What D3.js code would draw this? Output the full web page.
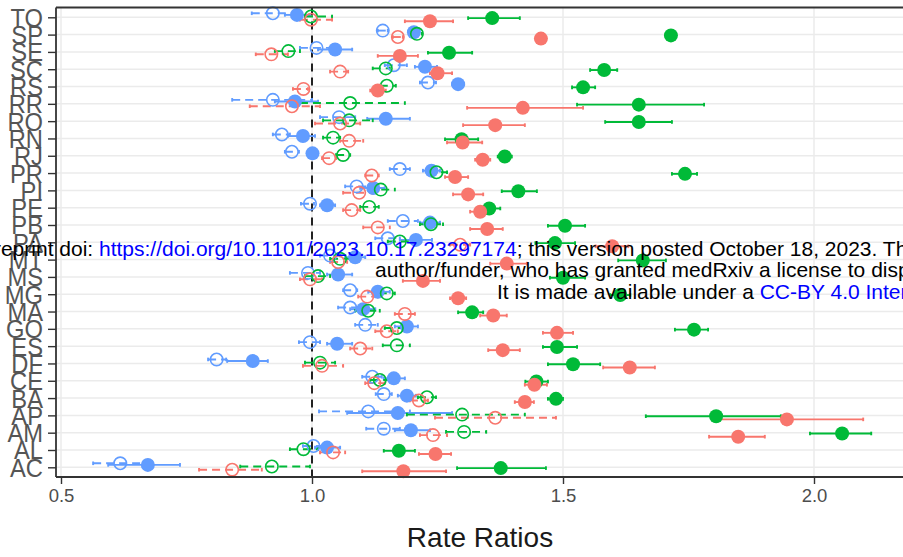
<!DOCTYPE html>
<html><head><meta charset="utf-8">
<script src="https://cdn.jsdelivr.net/npm/d3@7"></script>
<style>body{margin:0;background:#fff;overflow:hidden} svg{display:block;font-family:"Liberation Sans",Arial,sans-serif}</style>
</head><body><svg id="c" width="903" height="557"></svg>
<script>
// ---------------- DATA ----------------
const states = ["AC","AL","AM","AP","BA","CE","DF","ES","GO","MA","MG","MS","MT","PA","PB","PE","PI","PR","RJ","RN","RO","RR","RS","SC","SE","SP","TO"];
const xTicks = [0.5, 1.0, 1.5, 2.0];
const xTitle = "Rate Ratios";
// [estimate, lower, upper] per state, in the order of `states`
const filledRed = [[1.182,1.100,1.267],[1.246,1.213,1.277],[1.849,1.791,1.902],[1.946,1.809,2.098],[1.424,1.404,1.442],[1.443,1.424,1.468],[1.633,1.580,1.683],[1.380,1.351,1.414],[1.488,1.460,1.520],[1.361,1.335,1.388],[1.291,1.275,1.307],[1.221,1.181,1.255],[1.388,1.355,1.428],[1.598,1.565,1.630],[1.349,1.315,1.380],[1.335,1.315,1.355],[1.311,1.281,1.341],[1.285,1.265,1.311],[1.340,1.325,1.355],[1.300,1.269,1.339],[1.365,1.301,1.424],[1.420,1.309,1.540],[1.131,1.116,1.147],[1.250,1.235,1.279],[1.175,1.131,1.211],[1.456,1.449,1.463],[1.235,1.185,1.281]];
const filledGreen = [[1.376,1.289,1.466],[1.173,1.143,1.205],[2.056,1.992,2.114],[1.805,1.665,1.934],[1.486,1.470,1.500],[1.447,1.425,1.470],[1.520,1.470,1.574],[1.488,1.460,1.528],[1.761,1.723,1.789],[1.319,1.291,1.341],[1.614,1.594,1.634],[1.500,1.474,1.544],[1.659,1.610,1.705],[1.484,1.445,1.524],[1.504,1.470,1.544],[1.353,1.331,1.375],[1.411,1.378,1.448],[1.743,1.717,1.767],[1.384,1.370,1.398],[1.298,1.265,1.331],[1.651,1.584,1.717],[1.651,1.528,1.781],[1.540,1.518,1.564],[1.582,1.554,1.608],[1.273,1.231,1.319],[1.715,1.708,1.722],[1.359,1.311,1.414]];
const filledBlue = [[0.673,0.594,0.737],[1.030,1.006,1.056],[1.197,1.165,1.235],[1.171,1.070,1.279],[1.189,1.171,1.207],[1.163,1.143,1.185],[0.882,0.831,0.912],[1.050,1.030,1.080],[1.189,1.165,1.211],[1.102,1.076,1.126],[1.131,1.112,1.155],[1.052,1.030,1.080],[1.086,1.066,1.106],[1.207,1.175,1.239],[1.235,1.215,1.255],[1.030,1.016,1.046],[1.122,1.096,1.145],[1.238,1.221,1.255],[1.001,0.990,1.012],[0.982,0.952,1.006],[1.147,1.110,1.195],[0.966,0.926,1.012],[1.291,1.279,1.303],[1.225,1.205,1.249],[1.046,1.012,1.080],[1.203,1.197,1.209],[0.970,0.946,0.996]];
const hollowRed = [[0.841,0.775,0.900],[1.042,1.016,1.066],[1.241,1.215,1.269],[1.365,1.245,1.486],[1.213,1.195,1.231],[1.124,1.106,1.145],[1.020,0.982,1.062],[1.096,1.076,1.120],[1.149,1.126,1.171],[1.185,1.165,1.205],[1.110,1.092,1.131],[0.996,0.976,1.020],[1.052,1.036,1.070],[1.295,1.275,1.315],[1.131,1.102,1.155],[1.079,1.062,1.096],[1.094,1.062,1.120],[1.119,1.106,1.133],[1.034,1.020,1.048],[1.074,1.056,1.102],[1.056,1.006,1.096],[0.960,0.876,1.016],[0.983,0.962,0.992],[1.056,1.036,1.072],[0.919,0.888,0.952],[1.171,1.161,1.181],[0.998,0.976,1.040]];
const hollowGreen = [[0.920,0.857,0.996],[0.983,0.956,1.012],[1.303,1.267,1.347],[1.299,1.189,1.424],[1.229,1.211,1.247],[1.135,1.116,1.155],[1.016,0.986,1.046],[1.169,1.141,1.195],[1.169,1.145,1.193],[1.112,1.086,1.135],[1.149,1.133,1.165],[1.012,0.986,1.036],[1.056,1.036,1.076],[1.175,1.151,1.199],[1.237,1.215,1.261],[1.114,1.096,1.133],[1.137,1.112,1.165],[1.248,1.231,1.269],[1.062,1.048,1.076],[1.042,1.022,1.056],[1.074,1.022,1.121],[1.076,0.976,1.185],[1.149,1.135,1.167],[1.147,1.121,1.155],[0.953,0.926,0.976],[1.209,1.199,1.219],[0.998,0.986,1.040]];
const hollowBlue = [[0.618,0.564,0.677],[1.003,0.982,1.026],[1.143,1.108,1.175],[1.112,1.014,1.195],[1.143,1.127,1.159],[1.120,1.100,1.139],[0.810,0.793,0.829],[0.996,0.974,1.016],[1.106,1.086,1.131],[1.076,1.052,1.106],[1.076,1.062,1.090],[0.992,0.956,1.016],[1.036,1.016,1.056],[1.151,1.126,1.175],[1.181,1.151,1.211],[0.996,0.978,1.004],[1.089,1.066,1.112],[1.175,1.155,1.195],[0.960,0.946,0.974],[0.940,0.922,0.956],[1.054,1.016,1.086],[0.922,0.841,1.000],[1.231,1.215,1.247],[1.163,1.145,1.189],[1.009,0.976,1.036],[1.141,1.131,1.151],[0.922,0.880,0.972]];
const watermark = [
  ["medRxiv preprint doi: ", "https://doi.org/10.1101/2023.10.17.23297174", "; this version posted October 18, 2023. The copyright holder for this preprint (which was not certified by peer review) is the"],
  ["", "", "author/funder, who has granted medRxiv a license to display the preprint in perpetuity."],
  ["It is made available under a ", "CC-BY 4.0 International license", " ."]
];

// ---------------- CHART ----------------
const W = 903, H = 557;
const svg = d3.select("#c");
const P = {left: 56, top: 7.5, bottom: 477, right: 1000};
const x = d3.scaleLinear().domain([0.5, 2.0]).range([61, 814]);
const y = d3.scalePoint().domain(states).range([467.3, 17.3]);

const series = [
  {data: hollowBlue,  color: "#619CFF", filled: false, off: -4.0},
  {data: filledBlue,  color: "#619CFF", filled: true,  off: -2.4},
  {data: hollowGreen, color: "#00BA38", filled: false, off: -0.8},
  {data: filledGreen, color: "#00BA38", filled: true,  off:  0.8},
  {data: hollowRed,   color: "#F8766D", filled: false, off:  2.4},
  {data: filledRed,   color: "#F8766D", filled: true,  off:  4.0}
];

svg.append("rect").attr("width", W).attr("height", H).attr("fill", "#fff");

// grid
const grid = svg.append("g");
grid.selectAll("line.h").data(states).join("line")
  .attr("x1", P.left).attr("x2", P.right).attr("y1", d => y(d)).attr("y2", d => y(d))
  .attr("stroke", "#EBEBEB").attr("stroke-width", 1.5);
grid.selectAll("line.v").data(xTicks).join("line")
  .attr("x1", d => x(d)).attr("x2", d => x(d)).attr("y1", P.top).attr("y2", P.bottom)
  .attr("stroke", "#EBEBEB").attr("stroke-width", 1.5);

// reference line at 1
svg.append("line").attr("x1", x(1)).attr("x2", x(1)).attr("y1", P.top).attr("y2", P.bottom)
  .attr("stroke", "#222").attr("stroke-width", 2).attr("stroke-dasharray", "8,6");

// error bars
const eb = svg.append("g");
series.forEach(s => {
  const g = eb.append("g").attr("stroke", s.color).attr("stroke-width", 1.9).attr("fill", "none");
  const rows = s.data.map((v, i) => ({st: states[i], est: v[0], lo: v[1], hi: v[2]}));
  g.selectAll("line.bar").data(rows).join("line")
    .attr("x1", d => x(d.lo)).attr("x2", d => x(d.hi))
    .attr("y1", d => y(d.st) + s.off).attr("y2", d => y(d.st) + s.off)
    .attr("stroke-dasharray", s.filled ? null : "8,5");
  ["lo", "hi"].forEach(k => {
    g.selectAll("line.cap" + k).data(rows).join("line")
      .attr("x1", d => x(d[k])).attr("x2", d => x(d[k]))
      .attr("y1", d => y(d.st) + s.off - 1.8).attr("y2", d => y(d.st) + s.off + 1.8);
  });
});

// points
const pts = svg.append("g");
series.forEach(s => {
  const rows = s.data.map((v, i) => ({st: states[i], est: v[0]}));
  pts.append("g").selectAll("circle").data(rows).join("circle")
    .attr("cx", d => x(d.est)).attr("cy", d => y(d.st) + s.off)
    .attr("r", s.filled ? 7.0 : 6.2)
    .attr("fill", s.filled ? s.color : "none")
    .attr("stroke", s.color).attr("stroke-width", s.filled ? 0 : 1.6);
});

// panel border / axes lines
svg.append("line").attr("x1", P.left).attr("x2", P.right).attr("y1", P.top).attr("y2", P.top)
  .attr("stroke", "#333").attr("stroke-width", 1.8);

const xAxis = svg.append("g").attr("transform", `translate(0,${P.bottom})`)
  .call(d3.axisBottom(x).tickValues(xTicks).tickFormat(d3.format(".1f")).tickSize(7).tickSizeOuter(0));
xAxis.select(".domain").attr("d", `M${P.left},0H${P.right}`).attr("stroke", "#333").attr("stroke-width", 1.8);
xAxis.selectAll(".tick line").attr("stroke", "#333").attr("stroke-width", 1.4);
xAxis.selectAll(".tick text").attr("fill", "#4D4D4D").attr("font-size", 18.5).attr("y", 12)
  .attr("dy", "0.71em").attr("font-family", "Liberation Sans, Arial, sans-serif");

const yAxis = svg.append("g").attr("transform", `translate(${P.left},0)`)
  .call(d3.axisLeft(y).tickSize(8).tickSizeOuter(0));
yAxis.select(".domain").attr("d", `M0,${P.top}V${P.bottom}`).attr("stroke", "#333").attr("stroke-width", 1.8);
yAxis.selectAll(".tick line").attr("stroke", "#333").attr("stroke-width", 1.4);
yAxis.selectAll(".tick text").attr("fill", "#555").attr("font-size", 25)
  .attr("font-family", "Liberation Sans, Arial, sans-serif")
  .attr("x", 0).attr("dy", "0.36em")
  .attr("transform", "translate(-13,0) scale(0.95,1)");

svg.append("text").attr("x", 480).attr("y", 547).attr("text-anchor", "middle")
  .attr("font-size", 28).attr("fill", "#1a1a1a").text(xTitle);

// watermark overlay
const wm = svg.append("g").attr("font-size", 21);
const starts = [99, 375, 497];  // x where the visible key segment begins
const bases = [255.5, 277, 298.5];
watermark.forEach((ln, i) => {
  const t = wm.append("text").attr("y", bases[i]);
  const a = t.append("tspan").attr("fill", "#000").text(ln[0]);
  t.append("tspan").attr("fill", "#0000FF").text(ln[1]);
  t.append("tspan").attr("fill", "#000").text(ln[2]);
  if (i === 0) {
    const wa = a.node().getComputedTextLength();
    t.attr("x", starts[0] - wa);
  } else {
    t.attr("x", starts[i]);
  }
});
</script></body></html>
